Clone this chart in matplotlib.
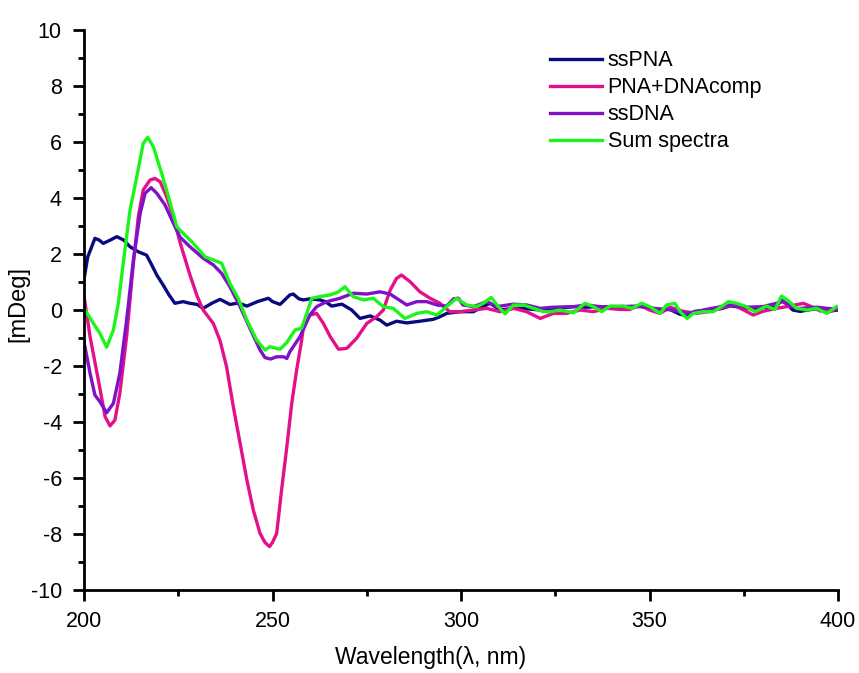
import matplotlib
matplotlib.use("Agg")
import matplotlib.pyplot as plt
from matplotlib.ticker import MultipleLocator

plt.rcParams['font.family'] = ['Liberation Sans', 'DejaVu Sans']
plt.rcParams['axes.unicode_minus'] = False

# CD spectra: wavelength (nm) and ellipticity (mDeg)
wl_sspna = [200, 201, 202.9, 204, 205.1, 207, 208.7, 210.5, 212.2, 214.4, 216.6, 218, 219.3, 221,
            222.5, 224.1, 226.3, 228.1, 230, 231.6, 234, 236.1, 238.7, 241, 243.2, 246, 248.9, 250,
            252, 254.6, 255.5, 257, 258.2, 260, 262.6, 264, 265.7, 268.4, 271, 273.2, 275.9, 278.5,
            280.3, 282.9, 285.6, 289.1, 292.7, 294.4, 296.2, 299.7, 303.3, 305.5, 307.7, 310.3, 313.9,
            317, 321, 325, 329.8, 333.3, 337, 342, 347.5, 350, 353, 355, 358, 360, 362, 366, 369,
            371.5, 374, 377, 381, 383.5, 385, 386.5, 388, 390, 392, 394.5, 397, 400]
sspna = [1.1, 1.9, 2.56, 2.5, 2.38, 2.5, 2.62, 2.5, 2.26, 2.08, 1.96, 1.6, 1.25, 0.89,
         0.55, 0.24, 0.30, 0.24, 0.2, 0.06, 0.25, 0.38, 0.2, 0.25, 0.14, 0.3, 0.42, 0.3,
         0.2, 0.54, 0.57, 0.4, 0.36, 0.4, 0.36, 0.3, 0.14, 0.21, 0.0, -0.3, -0.21, -0.36,
         -0.54, -0.4, -0.46, -0.4, -0.33, -0.24, -0.12, -0.06, -0.06, 0.1, 0.24, 0.0, 0.06,
         0.05, 0.0, 0.05, 0.12, 0.1, 0.12, 0.12, 0.14, 0.05, -0.05, 0.05, -0.15, -0.2, -0.05, 0.0, 0.05,
         0.15, 0.1, 0.05, 0.1, 0.1, 0.35, 0.2, 0.0, -0.05, 0.0, 0.05, -0.05, 0.0]

wl_comp = [200, 201.6, 203.8, 205.6, 206.9, 208.2, 209.5, 211.3, 213.1, 214.4, 215.7, 217.5, 218.8,
           220.2, 221.9, 223.7, 225.5, 228.1, 230, 231.6, 234.3, 236.1, 237.8, 239.6, 241.4, 243.2,
           244.9, 246.7, 248, 249.2, 250, 251.1, 252.4, 253.8, 255.1, 256.4, 257.7, 258.2, 259.9,
           261.7, 263.5, 265.3, 267.5, 269.7, 272.3, 275, 277.6, 279.4, 281.2, 282.9, 284.2, 286.5,
           289.1, 291.8, 294.4, 297, 299.7, 303.3, 306.8, 310.3, 313.9, 317.4, 321, 324.5, 328,
           331.6, 335.1, 338.6, 342.2, 344.8, 347.5, 350, 352.8, 355.4, 359, 362.5, 366, 369.5,
           372.2, 375, 377.5, 380, 383.7, 387.2, 390.8, 392.6, 395.2, 397.8, 400]
comp = [0.5, -0.95, -2.5, -3.81, -4.14, -3.93, -2.98, -0.95, 1.67, 3.33, 4.29, 4.64, 4.70,
        4.58, 4.05, 3.33, 2.4, 1.25, 0.5, 0.0, -0.48, -1.1, -2.02, -3.45, -4.76, -6.07,
        -7.14, -7.98, -8.3, -8.45, -8.3, -7.98, -6.43, -4.88, -3.33, -2.14, -1.1, -0.6, -0.18,
        -0.12, -0.48, -0.95, -1.4, -1.37, -1.01, -0.48, -0.24, 0.0, 0.71, 1.13, 1.25, 1.01,
        0.65, 0.42, 0.24, -0.06, -0.06, 0.0, 0.06, -0.06, 0.06, -0.06, -0.3, -0.12, -0.12,
        0.0, -0.06, 0.06, 0.02, 0.02, 0.18, 0.0, -0.12, 0.1, -0.05, -0.12, -0.05, 0.1,
        0.18, 0.0, -0.18, -0.05, 0.06, 0.14, 0.24, 0.14, -0.03, -0.06, 0.06]

wl_ssdna = [200, 201.6, 202.9, 204.2, 206, 207.8, 209.5, 211.3, 213.1, 214.9, 216.2, 217.8, 219.3,
            221.5, 223.7, 225.5, 228.1, 231.6, 234.3, 236.5, 238.7, 241.4, 244, 246.7, 248, 249.5,
            251.1, 252.9, 253.8, 254.6, 257.3, 259.9, 261.7, 264.4, 267.9, 271.4, 275, 278.5, 281.2,
            282.9, 285.6, 288.3, 290.9, 293.6, 296.2, 298, 299.3, 300.5, 303.3, 306.8, 309.4, 313.9,
            317.4, 321, 324.5, 329.8, 333.3, 336.9, 342.2, 347.5, 352, 356, 360, 365, 371.3, 375.7,
            380, 385.5, 389, 394.3, 400]
ssdna = [-1.13, -2.26, -3.04, -3.27, -3.67, -3.33, -2.26, -0.36, 1.79, 3.45, 4.17, 4.37, 4.17,
         3.75, 3.1, 2.6, 2.26, 1.85, 1.61, 1.31, 0.83, 0.12, -0.65, -1.43, -1.70, -1.75,
         -1.67, -1.67, -1.73, -1.49, -0.95, -0.18, 0.12, 0.30, 0.42, 0.6, 0.57, 0.65, 0.57,
         0.42, 0.18, 0.3, 0.3, 0.18, 0.14, 0.4, 0.42, 0.18, 0.12, 0.3, 0.12, 0.21,
         0.18, 0.06, 0.1, 0.12, 0.18, 0.12, 0.12, 0.12, 0.05, 0.0, -0.12, 0.02, 0.18, 0.1,
         0.12, 0.3, 0.05, 0.1, 0.02]

wl_sum = [200, 202.5, 204.2, 206, 207.8, 209.1, 210.4, 212.2, 214, 215.7, 216.9, 218.4, 220.6,
          222.4, 224.6, 226.3, 228.1, 229, 232.1, 234.3, 236.5, 238.7, 240.9, 243.2, 245.8, 248,
          249.3, 252, 253.8, 256, 257.7, 259.1, 260.4, 262.6, 265.3, 267.5, 269.2, 271.4, 274.1,
          276.7, 279.4, 282, 285.1, 288.3, 290.9, 293.6, 296.2, 298.8, 301.5, 304.2, 305.9, 308,
          309.9, 311.7, 313.9, 316.6, 319.2, 321.9, 323.6, 326.3, 329.8, 332.9, 335.1, 337.3,
          339.5, 343, 345.3, 347.9, 350.1, 352.8, 354.5, 356.7, 358.5, 360, 361.6, 364.3, 366.9,
          369.1, 370.9, 373.1, 375.3, 378, 381, 383.3, 385, 386.8, 389, 391.7, 394.3, 397, 399.6]
sum_spec = [0.06, -0.48, -0.83, -1.33, -0.71, 0.24, 1.67, 3.57, 4.76, 5.95, 6.17, 5.83, 4.88,
            4.05, 2.98, 2.74, 2.5, 2.38, 1.9, 1.79, 1.67, 0.95, 0.42, -0.36, -1.07, -1.43,
            -1.31, -1.40, -1.16, -0.71, -0.65, -0.12, 0.42, 0.48, 0.54, 0.65, 0.83, 0.48, 0.36,
            0.42, 0.12, 0.06, -0.3, -0.12, -0.06, -0.18, 0.12, 0.42, 0.18, 0.12, 0.24, 0.45,
            0.12, -0.14, 0.18, 0.18, 0.06, -0.06, -0.06, 0.0, -0.1, 0.24, 0.12, -0.06,
            0.14, 0.14, 0.06, 0.24, 0.12, -0.12, 0.18, 0.24, -0.12, -0.3, -0.12, -0.06, -0.06,
            0.12, 0.3, 0.24, 0.14, -0.06, 0.14, 0.02, 0.5, 0.33, 0.06, 0.0, 0.06, -0.12, 0.12]

labels = ["ssPNA", "PNA+DNAcomp", "ssDNA", "Sum spectra"]
colors = ["#0a0a80", "#e4108a", "#7e12c8", "#1cf51c"]

fig = plt.figure(figsize=(8.59, 6.73), dpi=100)
ax = fig.add_axes([0.0978, 0.1233, 0.8778, 0.8321])

series = [(wl_sspna, sspna), (wl_comp, comp), (wl_ssdna, ssdna), (wl_sum, sum_spec)]
for (x, y), lab, col in zip(series, labels, colors):
    ax.plot(x, y, color=col, lw=2.4, label=lab, solid_joinstyle='round')

ax.set_xlim(200, 400)
ax.set_ylim(-10, 10)
ax.xaxis.set_major_locator(MultipleLocator(50))
ax.xaxis.set_minor_locator(MultipleLocator(25))
ax.yaxis.set_major_locator(MultipleLocator(2))
ax.yaxis.set_minor_locator(MultipleLocator(1))

for side in ("top", "right"):
    ax.spines[side].set_visible(False)
for side in ("left", "bottom"):
    ax.spines[side].set_linewidth(2)

ax.tick_params(which='major', direction='out', length=8, width=2, labelsize=15.5)
ax.tick_params(axis='x', which='major', pad=7)
ax.tick_params(axis='y', which='major', pad=8)
ax.tick_params(which='minor', direction='out', length=4, width=2)

ax.set_xlabel("Wavelength(λ, nm)", fontsize=16.5)
ax.xaxis.set_label_coords(0.459, -0.1)
ax.set_ylabel("[mDeg]", fontsize=17)
ax.yaxis.set_label_coords(-0.072, 0.511)

leg = ax.legend(loc='upper left', bbox_to_anchor=(0.606, 0.979), frameon=False, fontsize=15.5,
                handlelength=2.45, handletextpad=0.25, labelspacing=0.28, borderaxespad=0)

fig.savefig("out.png", dpi=100)
